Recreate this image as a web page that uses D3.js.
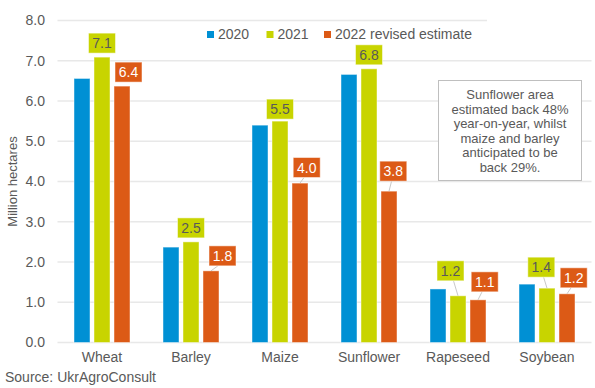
<!DOCTYPE html>
<html>
<head>
<meta charset="utf-8">
<script src="https://cdn.jsdelivr.net/npm/d3@7"></script>
<style>
  body { margin: 0; background: #fff; }
  svg { display: block; font-family: "Liberation Sans", Arial, sans-serif; }
</style>
</head>
<body>
<svg id="chart" width="595" height="388"></svg>
<script>
// data
var categories = ['Wheat', 'Barley', 'Maize', 'Sunflower', 'Rapeseed', 'Soybean'];
var seriesNames = ['2020', '2021', '2022 revised estimate'];
var values2020 = [6.56, 2.37, 5.40, 6.66, 1.33, 1.45];
var values2021 = [7.09, 2.50, 5.50, 6.80, 1.16, 1.35];
var values2022 = [6.37, 1.78, 3.96, 3.76, 1.06, 1.21];
var yTicks = [0, 1, 2, 3, 4, 5, 6, 7, 8];
var noteLines = ['Sunflower area', 'estimated back 48%', 'year-on-year, whilst',
  'maize and barley', 'anticipated to be', 'back 29%.'];

var colors = ['#0090d4', '#c8d400', '#dc5a16'];
var grey = '#595959';

// hand placement of the data label boxes (dx from bar centre, gap above bar)
var labelNudge = {
  '2021': [[0, 4], [0, 4], [0, 2], [0, 4], [-7.5, 15], [-5.7, 11]],
  '2022 revised estimate': [[6.5, 4], [11.5, 5], [6.7, 5.6], [4.3, 10], [6.7, 8], [6.7, 6]]
};

var series = [values2020, values2021, values2022].map(function(vals, i) {
  return { name: seriesNames[i], color: colors[i], values: vals };
});

var svg = d3.select('#chart');

var x = d3.scaleBand().domain(categories).range([57.5, 591.5]);
var xs = d3.scaleBand().domain(seriesNames)
  .range([x.bandwidth() / 2 - 30, x.bandwidth() / 2 + 30])
  .paddingInner(0.2).paddingOuter(0.1);
var y = d3.scaleLinear().domain([0, 8]).range([342.5, 20.5]);

// gridlines
svg.append('g').selectAll('line')
  .data(yTicks)
  .join('line')
  .attr('x1', 57.5)
  .attr('x2', function(d) { return d === 8 ? 487 : 591.5; })
  .attr('y1', function(d) { return y(d); })
  .attr('y2', function(d) { return y(d); })
  .attr('stroke', '#e8e8e8')
  .attr('stroke-width', 1.5);

// y axis labels
var yAxis = d3.axisLeft(y).tickValues(yTicks).tickFormat(d3.format('.1f')).tickSize(0).tickPadding(0);
svg.append('g')
  .attr('transform', 'translate(45,0)')
  .call(yAxis)
  .call(function(g) {
    g.select('.domain').remove();
    g.selectAll('text').attr('fill', grey).style('font-size', '14px')
      .style('font-family', '"Liberation Sans", Arial, sans-serif');
  });

// x axis labels
var xAxis = d3.axisBottom(x).tickSize(0).tickPadding(0);
svg.append('g')
  .attr('transform', 'translate(0,352)')
  .call(xAxis)
  .call(function(g) {
    g.select('.domain').remove();
    g.selectAll('text').attr('fill', grey).style('font-size', '14px')
      .style('font-family', '"Liberation Sans", Arial, sans-serif');
  });

// bars
var groups = svg.append('g').selectAll('g')
  .data(series)
  .join('g')
  .attr('fill', function(d) { return d.color; });

groups.selectAll('rect')
  .data(function(s) {
    return s.values.map(function(v, i) { return { cat: categories[i], v: v, name: s.name }; });
  })
  .join('rect')
  .attr('x', function(d) { return x(d.cat) + xs(d.name); })
  .attr('width', xs.bandwidth())
  .attr('y', function(d) { return y(d.v); })
  .attr('height', function(d) { return y(0) - y(d.v); })
  .attr('stroke', 'rgba(255,255,255,0.45)')
  .attr('stroke-width', 1);

// data labels for 2021 and 2022
var labelData = [];
series.slice(1).forEach(function(s) {
  s.values.forEach(function(v, i) {
    var nudge = labelNudge[s.name][i];
    var cx = x(categories[i]) + xs(s.name) + xs.bandwidth() / 2;
    labelData.push({
      v: v, color: s.color, name: s.name,
      barX: cx, barY: y(v),
      bx: cx + nudge[0], by: y(v) - nudge[1]
    });
  });
});

var labels = svg.append('g').selectAll('g')
  .data(labelData)
  .join('g');

labels.filter(function(d) { return d.barY - d.by > 4.5; })
  .append('line')
  .attr('x1', function(d) { return d.barX; })
  .attr('y1', function(d) { return d.barY; })
  .attr('x2', function(d) { return Math.max(d.bx - 13.5, Math.min(d.bx + 13.5, d.barX + (d.bx - d.barX) * 0.6)); })
  .attr('y2', function(d) { return d.by; })
  .attr('stroke', '#c8c8c8')
  .attr('stroke-width', 1);

labels.append('rect')
  .attr('x', function(d) { return d.bx - 13.5; })
  .attr('y', function(d) { return d.by - 20; })
  .attr('width', 27)
  .attr('height', 20)
  .attr('fill', function(d) { return d.color; })
  .attr('stroke', 'rgba(255,255,255,0.5)');

labels.append('text')
  .attr('x', function(d) { return d.bx; })
  .attr('y', function(d) { return d.by - 5; })
  .attr('text-anchor', 'middle')
  .style('font-size', '14px')
  .attr('fill', function(d) { return d.name === '2021' ? grey : '#ffffff'; })
  .text(function(d) { return d3.format('.1f')(d.v); });

// legend
var legendX = [207, 266.5, 324];
var legend = svg.append('g').selectAll('g')
  .data(series)
  .join('g')
  .attr('transform', function(d, i) { return 'translate(' + legendX[i] + ',31)'; });
legend.append('rect')
  .attr('width', 7).attr('height', 7)
  .attr('fill', function(d) { return d.color; });
legend.append('text')
  .attr('x', 11).attr('y', 8)
  .style('font-size', '14px')
  .attr('fill', grey)
  .text(function(d) { return d.name; });

// y axis title
svg.append('text')
  .attr('transform', 'translate(17,181.5) rotate(-90)')
  .attr('text-anchor', 'middle')
  .style('font-size', '13px')
  .attr('fill', grey)
  .text('Million hectares');

// annotation box
var note = svg.append('g');
note.append('rect')
  .attr('x', 438.5).attr('y', 80.5)
  .attr('width', 143).attr('height', 100)
  .attr('fill', '#ffffff')
  .attr('stroke', '#bfbfbf');
note.append('text')
  .attr('text-anchor', 'middle')
  .style('font-size', '13px')
  .attr('fill', grey)
  .selectAll('tspan')
  .data(noteLines)
  .join('tspan')
  .attr('x', 510)
  .attr('y', function(d, i) { return 99 + i * 14.5; })
  .text(function(d) { return d; });

// source
svg.append('text')
  .attr('x', 5).attr('y', 382)
  .style('font-size', '14px')
  .attr('fill', grey)
  .text('Source: UkrAgroConsult');
</script>
</body>
</html>
